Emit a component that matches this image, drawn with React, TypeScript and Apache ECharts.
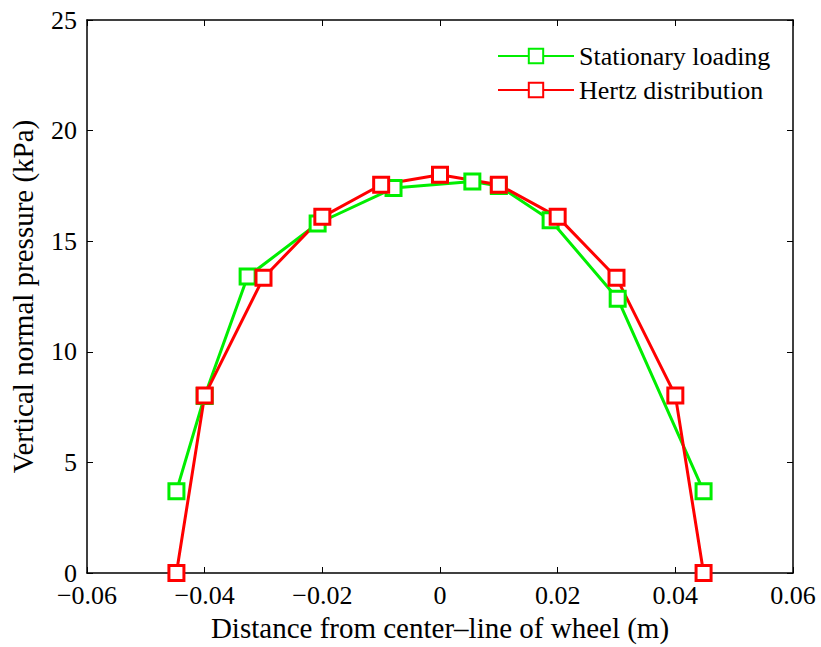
import React, { useEffect, useRef } from "react";
import * as echarts from "echarts";

const stationaryX = [-0.0448, -0.04, -0.0327, -0.0208, -0.0079, 0.0055, 0.01, 0.0188, 0.0302, 0.0448];
const stationaryY = [3.7, 8.0, 13.4, 15.8, 17.4, 17.7, 17.5, 15.95, 12.4, 3.7];
const hertzX = [-0.0448, -0.04, -0.03, -0.02, -0.01, 0, 0.01, 0.02, 0.03, 0.04, 0.0448];
const hertzY = [0, 8.03, 13.35, 16.1, 17.55, 18.0, 17.55, 16.1, 13.35, 8.03, 0];
const seriesNames = ["Stationary loading", "Hertz distribution"];
const xTitle = "Distance from center\u2013line of wheel (m)";
const yTitle = "Vertical normal pressure (kPa)";

const FONT = "Liberation Serif";
const TICK_FS = 26;
const TITLE_FS = 29;

function fmtX(v: number): string {
  if (Math.abs(v) < 1e-9) return "0";
  return (v < 0 ? "\u2212" : "") + Math.abs(v).toFixed(2);
}

export default function App() {
  const ref = useRef<HTMLDivElement>(null);
  useEffect(() => {
    if (!ref.current) return;
    const chart = echarts.init(ref.current, null, { renderer: "svg" });
    const axisLine = { show: true, onZero: false, lineStyle: { color: "#000", width: 1.5 } };
    const tick = { show: true, inside: true, length: 6, lineStyle: { color: "#000", width: 1 } };
    const mk = (name: string, xs: number[], ys: number[], color: string) => ({
      name,
      type: "line",
      data: xs.map((x, i) => [x, ys[i]]),
      symbol: "rect",
      symbolSize: 15,
      showAllSymbol: true,
      lineStyle: { color, width: 3 },
      itemStyle: { color: "#fff", borderColor: color, borderWidth: 3 },
      z: 3,
    });
    chart.setOption({
      animation: false,
      grid: { left: 86, right: 28, top: 20, bottom: 70, containLabel: false },
      legend: {
        orient: "vertical",
        left: 492,
        top: 38,
        itemWidth: 76,
        itemHeight: 18,
        itemGap: 8,
        data: seriesNames,
        textStyle: { fontFamily: FONT, fontSize: TICK_FS, color: "#000" },
      },
      xAxis: [
        {
          type: "value",
          min: -0.06,
          max: 0.06,
          interval: 0.02,
          name: xTitle,
          nameLocation: "middle",
          nameGap: 40,
          nameTextStyle: { fontFamily: FONT, fontSize: TITLE_FS, color: "#000" },
          axisLine,
          axisTick: tick,
          splitLine: { show: false },
          axisLabel: { formatter: fmtX, fontFamily: FONT, fontSize: TICK_FS, color: "#000", margin: 9 },
        },
        {
          type: "value",
          position: "top",
          min: -0.06,
          max: 0.06,
          interval: 0.02,
          axisLine,
          axisTick: tick,
          splitLine: { show: false },
          axisLabel: { show: false },
        },
      ],
      yAxis: [
        {
          type: "value",
          min: 0,
          max: 25,
          interval: 5,
          name: yTitle,
          nameLocation: "middle",
          nameGap: 50,
          nameTextStyle: { fontFamily: FONT, fontSize: TITLE_FS, color: "#000" },
          axisLine,
          axisTick: tick,
          splitLine: { show: false },
          axisLabel: { fontFamily: FONT, fontSize: TICK_FS, color: "#000", margin: 10 },
        },
        {
          type: "value",
          position: "right",
          min: 0,
          max: 25,
          interval: 5,
          axisLine,
          axisTick: tick,
          splitLine: { show: false },
          axisLabel: { show: false },
        },
      ],
      series: [
        mk(seriesNames[0], stationaryX, stationaryY, "#00ee00"),
        mk(seriesNames[1], hertzX, hertzY, "#ff0000"),
      ],
    });
    return () => chart.dispose();
  }, []);
  return (
    <>
      <style>{`body{margin:0;background:#fff;} #chart svg text{font-family:'Liberation Serif','Times New Roman',serif !important;}`}</style>
      <div
        id="chart"
        ref={ref}
        style={{ position: "fixed", left: 0, top: 0, width: 821, height: 647, background: "#fff" }}
      />
    </>
  );
}
